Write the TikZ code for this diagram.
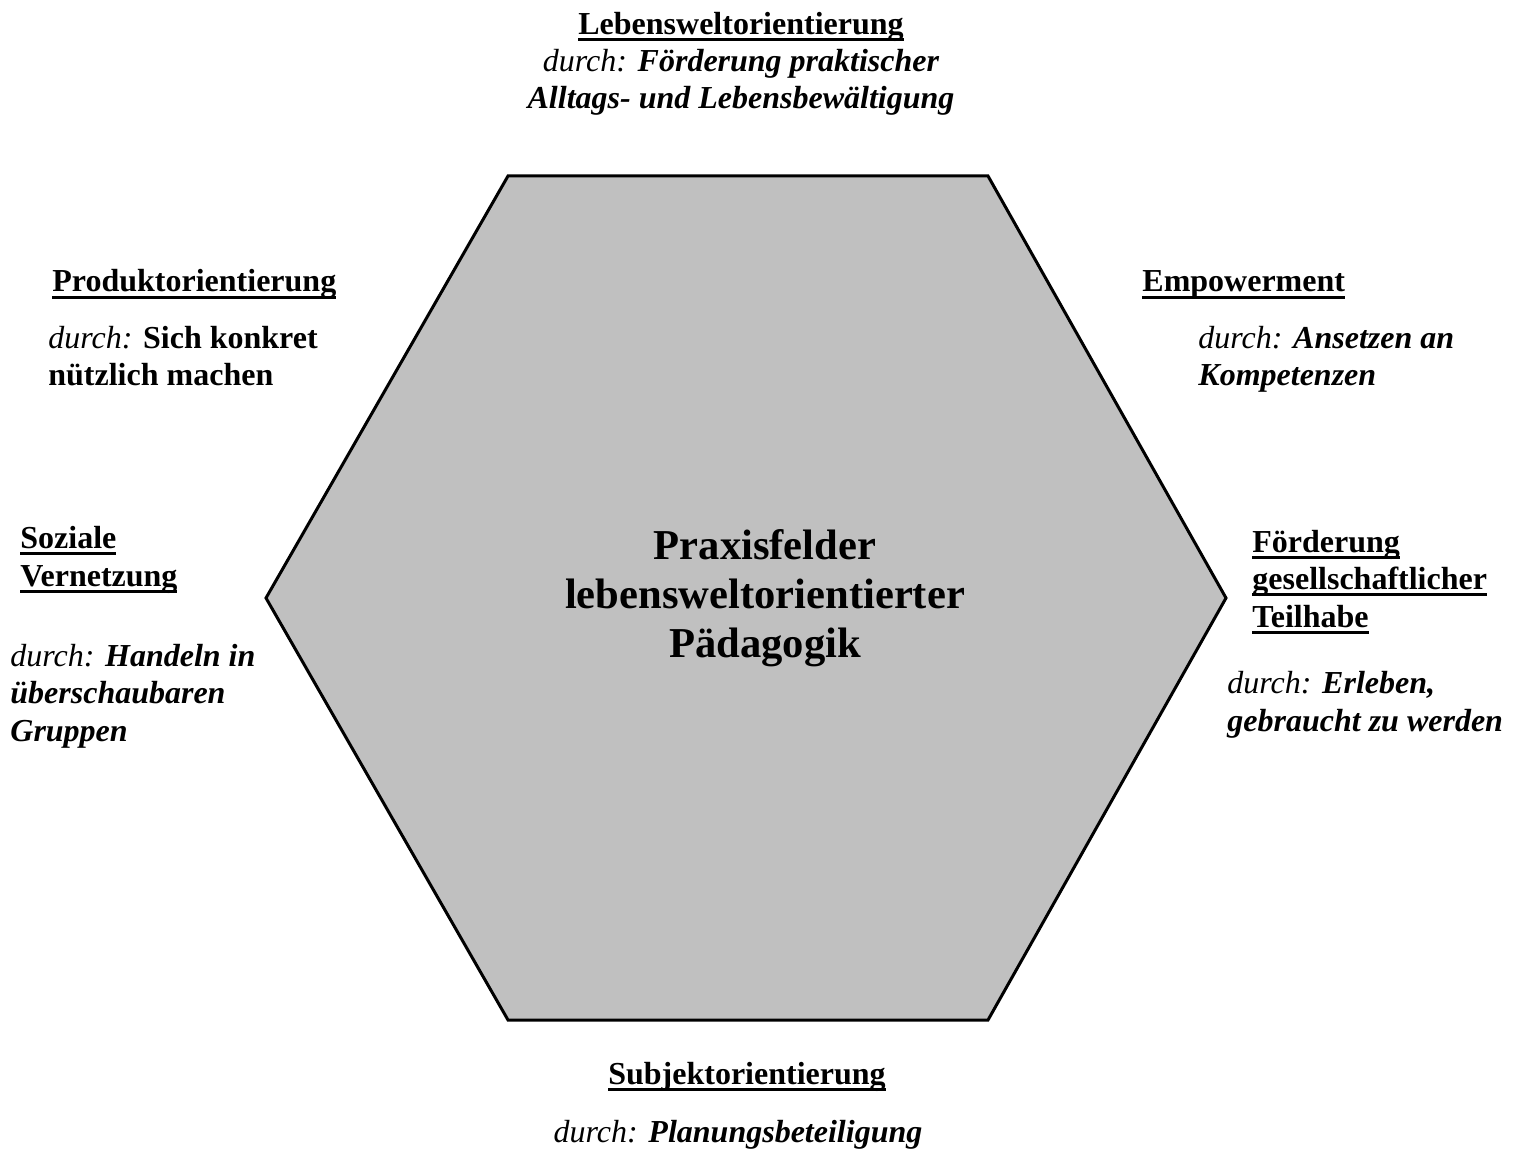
\documentclass[tikz,border=0pt]{standalone}
\usepackage{fontspec}
\setmainfont{Liberation Serif}
\definecolor{hexgray}{RGB}{192,192,192}
\newcommand{\ulword}[1]{\setbox0\hbox{#1}\rlap{\rule[-3.3pt]{\wd0}{1.5pt}}\box0}
\tikzset{
  lbl/.style={font=\fontsize{16.0}{18.7}\selectfont, inner sep=0pt, align=left, anchor=base west},
  midlbl/.style={lbl, align=center, anchor=base},
}
\begin{document}
\begin{tikzpicture}[x=0.5pt,y=0.5pt]
\useasboundingbox (0,0) rectangle (1519,-1160);
\draw[line width=1.5pt, fill=hexgray] (508,-176) -- (988,-176) -- (1226,-598)
  -- (988,-1020) -- (508,-1020) -- (266,-598) -- cycle;
\node[font=\fontsize{21.3}{24.5}\selectfont\bfseries, align=center] (praxis) at (765,-598)
  {Praxisfelder\\lebensweltorientierter\\Pädagogik};

% base anchor = baseline of the last line
\node[midlbl] (lebenswelt) at (741,-109) {\textbf{\ulword{Lebensweltorientierung}}\\
  {\itshape durch:} {\bfseries\itshape Förderung praktischer}\\
  {\bfseries\itshape Alltags- und Lebensbewältigung}};

\node[lbl] (produkt) at (52,-292) {\textbf{\ulword{Produktorientierung}}};
\node[lbl] (produktd) at (48,-386) {{\itshape durch:} \textbf{Sich konkret}\\\textbf{nützlich machen}};

\node[lbl] (empower) at (1142,-292) {\textbf{\ulword{Empowerment}}};
\node[lbl] (empowerd) at (1198,-386) {{\itshape durch:} {\bfseries\itshape Ansetzen an}\\{\bfseries\itshape Kompetenzen}};

\node[lbl] (sozial) at (20,-586) {\textbf{\ulword{Soziale}}\\\textbf{\ulword{Vernetzung}}};
\node[lbl] (soziald) at (10,-741) {{\itshape durch:} {\bfseries\itshape Handeln in}\\
  {\bfseries\itshape überschaubaren}\\{\bfseries\itshape Gruppen}};

\node[lbl] (teilhabe) at (1252,-627) {\textbf{\ulword{Förderung}}\\
  \textbf{\ulword{gesellschaftlicher}}\\\textbf{\ulword{Teilhabe}}};
\node[lbl] (teilhabed) at (1227,-731) {{\itshape durch:} {\bfseries\itshape Erleben,}\\
  {\bfseries\itshape gebraucht zu werden}};

\node[midlbl] (subjekt) at (747,-1084) {\textbf{\ulword{Subjektorientierung}}};
\node[midlbl] (subjektd) at (738,-1142) {{\itshape durch:} {\bfseries\itshape Planungsbeteiligung}};
\end{tikzpicture}
\end{document}
